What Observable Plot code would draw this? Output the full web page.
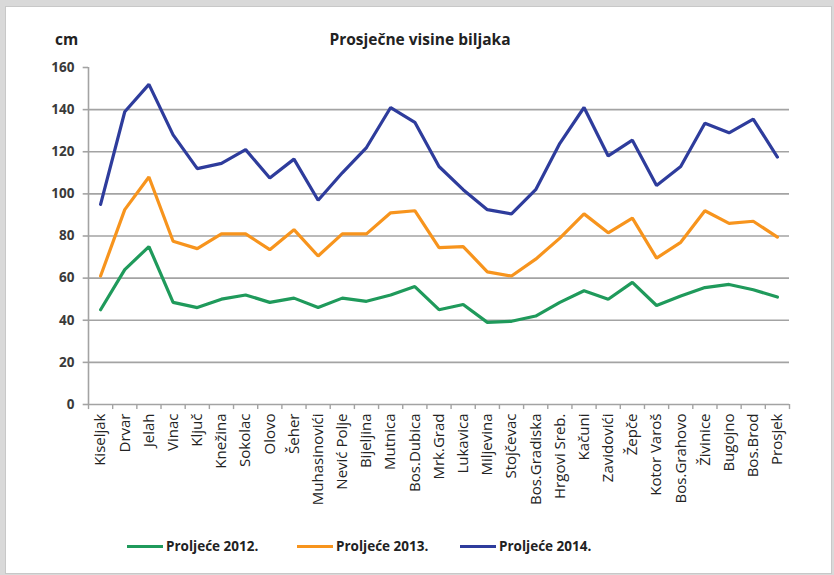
<!DOCTYPE html>
<html>
<head>
<meta charset="utf-8">
<script src="https://cdn.jsdelivr.net/npm/d3@7"></script>
<script src="https://cdn.jsdelivr.net/npm/@observablehq/plot@0.6"></script>
<style>
  html, body { margin: 0; padding: 0; background: #d9d9d9; }
  #frame { position: absolute; left: 5px; top: 6px; width: 825px; height: 566px; background: #fff; border: 1px solid #c8c8c8; }
  #wrap { position: absolute; left: 0; top: 0; width: 834px; height: 575px; font-family: "Open Sans", sans-serif; }
  #title { position: absolute; left: 0; width: 834px; top: 28px; text-align: center; font-weight: 700; font-size: 15.5px; color: #222; padding-left: 6px; box-sizing: border-box; }
  #unit { position: absolute; left: 55px; top: 28px; font-weight: 700; font-size: 15.5px; color: #222; }
  #chart { position: absolute; left: 0; top: 50px; }
  .leg { position: absolute; top: 537px; font-weight: 700; font-size: 13.5px; color: #222; display: flex; align-items: center; }
  .leg span.sw { display: inline-block; width: 36px; height: 3px; margin-right: 3px; }
</style>
</head>
<body>
<div id="frame"></div>
<div id="wrap">
  <div id="unit">cm</div>
  <div id="title">Prosječne visine biljaka</div>
  <div id="chart"></div>
  <div id="legend"></div>
</div>
<script>
const categories = ["Kiseljak","Drvar","Jelah","Vinac","Ključ","Knežina","Sokolac","Olovo","Šeher","Muhasinovići","Nević Polje","Bijeljina","Mutnica","Bos.Dubica","Mrk.Grad","Lukavica","Miljevina","Stojčevac","Bos.Gradiska","Hrgovi Sreb.","Kačuni","Zavidovići","Žepče","Kotor Varoš","Bos.Grahovo","Živinice","Bugojno","Bos.Brod","Prosjek"];
const v2012 = [45, 64, 75, 48.5, 46, 50, 52, 48.5, 50.5, 46, 50.5, 49, 52, 56, 45, 47.5, 39, 39.5, 42, 48.5, 54, 50, 58, 47, 51.5, 55.5, 57, 54.5, 51];
const v2013 = [61, 92.5, 108, 77.5, 74, 81, 81, 73.5, 83, 70.5, 81, 81, 91, 92, 74.5, 75, 63, 61, 69, 79, 90.5, 81.5, 88.5, 69.5, 77, 92, 86, 87, 79.5];
const v2014 = [95, 139, 152, 128, 112, 114.5, 121, 107.5, 116.5, 97, 110, 122, 141, 134, 113, 102, 92.5, 90.5, 102, 124, 141, 118, 125.5, 104, 113, 133.5, 129, 135.5, 117.5];
const seriesNames = ["Proljeće 2012.", "Proljeće 2013.", "Proljeće 2014."];
const seriesColors = ["#1f9a5b", "#f7941d", "#2e3c9c"];
const yTicks = [0, 20, 40, 60, 80, 100, 120, 140, 160];

const series = [v2012, v2013, v2014];
const idx = categories.map((_, i) => i);
const bounds = d3.range(categories.length + 1).map(i => i - 0.5);
const gridColor = "#a3a3a3";

const plot = Plot.plot({
  width: 834,
  height: 470,
  marginLeft: 88,
  marginRight: 45,
  marginTop: 17,
  marginBottom: 116,
  style: { fontFamily: "Open Sans, sans-serif", background: "transparent", overflow: "visible" },
  x: { type: "linear", domain: [-0.5, categories.length - 0.5], axis: null },
  y: { domain: [0, 160], axis: null },
  marks: [
    Plot.ruleY(yTicks.filter(d => d > 0 && d < 160), { x1: -0.5, x2: categories.length - 0.5, stroke: gridColor, strokeWidth: 1.6 }),
    Plot.ruleY(yTicks, { x1: -0.72, x2: -0.5, stroke: gridColor, strokeWidth: 1.6 }),
    Plot.ruleX([-0.5], { y1: 0, y2: 160, stroke: gridColor, strokeWidth: 1.6 }),
    Plot.ruleY([0], { x1: -0.5, x2: categories.length - 0.5, stroke: gridColor, strokeWidth: 1.6 }),
    Plot.ruleX(bounds, { y1: 0, y2: -2.4, stroke: gridColor, strokeWidth: 1.4 }),
    Plot.text(yTicks, { x: -0.5, y: d => d, dx: -14, textAnchor: "end", text: d => String(d), fontSize: 13.5, fontWeight: 700, fill: "#3a3a3a" }),
    Plot.text(idx, { x: d => d, y: 0, dy: 9, rotate: -90, textAnchor: "end", text: d => categories[d], fontSize: 15, fill: "#222", letterSpacing: 0.6 }),
    ...series.map((vals, s) => Plot.line(idx, { x: d => d, y: d => vals[d], stroke: seriesColors[s], strokeWidth: 3.2, strokeLinejoin: "miter" }))
  ]
});
document.getElementById("chart").appendChild(plot);

const legendX = [127, 297, 460];
const legend = document.getElementById("legend");
seriesNames.forEach((name, s) => {
  const el = document.createElement("div");
  el.className = "leg";
  el.style.left = legendX[s] + "px";
  el.innerHTML = `<span class="sw" style="background:${seriesColors[s]}"></span>${name}`;
  legend.appendChild(el);
});
</script>
</body>
</html>
